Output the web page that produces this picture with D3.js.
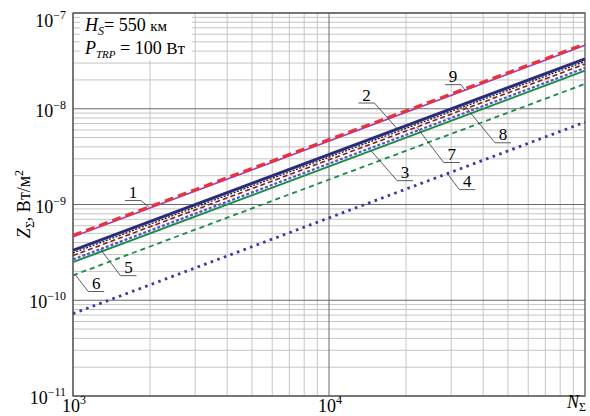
<!DOCTYPE html>
<html>
<head>
<meta charset="utf-8">
<script src="https://cdn.jsdelivr.net/npm/d3@7"></script>
<style>
	body { margin: 0; background: #fff; }
</style>
</head>
<body>
<div id="chart"></div>
<script>
'use strict'

// Data: each curve is Z = k * N, k read at N = 1e3
const seriesIds   = ['1', '9', '2', '8', '7', '5', '3', '6', '4'];
const valuesAt1e3 = [4.75e-10, 4.6e-10, 3.32e-10, 3.12e-10, 2.93e-10, 2.67e-10, 2.5e-10, 1.82e-10, 7.25e-11];
const nRange      = [1e3, 1e5];
const xTicks      = [1e3, 1e4];
const yTicks      = [1e-11, 1e-10, 1e-9, 1e-8, 1e-7];

// line styles, by series id
const styles = {
	'1': { color: '#e8323c', width: 3.2, dash: '9,5' },
	'9': { color: '#a43ab8', width: 1.6, dash: null },
	'2': { color: '#2b2b7d', width: 3, dash: null },
	'8': { color: '#1a1a1a', width: 1.3, dash: '2,1.5' },
	'7': { color: '#8c1c1c', width: 1.6, dash: '5,3' },
	'5': { color: '#5353c8', width: 2.2, dash: '3,2' },
	'3': { color: '#1b8a48', width: 2, dash: null },
	'6': { color: '#1b8a48', width: 1.8, dash: '5,4' },
	'4': { color: '#3838a8', width: 2.8, dash: '2.6,4.4' }
};

// callouts: N where the leader touches the curve, text offset in px
const callouts = [
	{ id: '1', n: 1980, dx: -16, dy: -9 },
	{ id: '9', n: 34000, dx: -12, dy: -8 },
	{ id: '2', n: 18500, dx: -31, dy: -28.5 },
	{ id: '8', n: 34000, dx: 38, dy: 34 },
	{ id: '7', n: 22000, dx: 35, dy: 33 },
	{ id: '3', n: 14600, dx: 34, dy: 27.5 },
	{ id: '4', n: 29000, dx: 20, dy: 13.5 },
	{ id: '5', n: 1280, dx: 28, dy: 24 },
	{ id: '6', n: 1020, dx: 21, dy: 14.5 }
];

const width = 590;
const height = 416;
const margin = { left: 73, right: 5, top: 13, bottom: 20 };
const serif = '"Liberation Serif", "Times New Roman", "DejaVu Serif", serif';

const svg = d3.select('#chart')
	.append('svg')
	.attr('width', width)
	.attr('height', height)
	.attr('font-family', serif)
	.style('font-family', serif);

const x = d3.scaleLog()
	.domain(nRange)
	.range([margin.left, width - margin.right]);

const y = d3.scaleLog()
	.domain([yTicks[0], yTicks[yTicks.length - 1]])
	.range([height - margin.bottom, margin.top]);

// minor values for grid
function minorValues(lo, hi) {
	let out = [];
	for (let e = Math.round(Math.log10(lo)); e < Math.round(Math.log10(hi)); e++) {
		for (let m = 2; m <= 9; m++) out.push(m * Math.pow(10, e));
	}
	return out;
}

const grid = svg.append('g');

grid.selectAll('line.vminor')
	.data(minorValues(nRange[0], nRange[1]))
	.enter()
	.append('line')
		.attr('x1', d => x(d)).attr('x2', d => x(d))
		.attr('y1', y.range()[1]).attr('y2', y.range()[0])
		.style('stroke', '#c4c4c4')
		.style('stroke-width', '1px');

grid.selectAll('line.hminor')
	.data(minorValues(yTicks[0], yTicks[yTicks.length - 1]))
	.enter()
	.append('line')
		.attr('y1', d => y(d)).attr('y2', d => y(d))
		.attr('x1', x.range()[0]).attr('x2', x.range()[1])
		.style('stroke', '#c4c4c4')
		.style('stroke-width', '1px');

grid.selectAll('line.vmajor')
	.data(xTicks)
	.enter()
	.append('line')
		.attr('x1', d => x(d)).attr('x2', d => x(d))
		.attr('y1', y.range()[1]).attr('y2', y.range()[0])
		.style('stroke', '#6a6a6a')
		.style('stroke-width', '1px');

grid.selectAll('line.hmajor')
	.data(yTicks)
	.enter()
	.append('line')
		.attr('y1', d => y(d)).attr('y2', d => y(d))
		.attr('x1', x.range()[0]).attr('x2', x.range()[1])
		.style('stroke', '#6a6a6a')
		.style('stroke-width', '1px');

// frame
svg.append('rect')
	.attr('x', x.range()[0])
	.attr('y', y.range()[1])
	.attr('width', x.range()[1] - x.range()[0])
	.attr('height', y.range()[0] - y.range()[1])
	.style('fill', 'none')
	.style('stroke', '#555')
	.style('stroke-width', '1.3px');

// white box behind the parameters
svg.append('rect')
	.attr('x', 80).attr('y', 15)
	.attr('width', 112).attr('height', 45)
	.style('fill', '#fff');

const params = svg.append('g').style('font-size', '18px');
let l1 = params.append('text').attr('x', 85).attr('y', 31);
l1.append('tspan').style('font-style', 'italic').text('H');
l1.append('tspan').style('font-style', 'italic').style('font-size', '12px').attr('dy', 4).text('S');
l1.append('tspan').attr('dy', -4).text('= 550 ');
l1.append('tspan').style('font-size', '15px').text('км');

let l2 = params.append('text').attr('x', 85).attr('y', 54);
l2.append('tspan').style('font-style', 'italic').text('P');
l2.append('tspan').style('font-style', 'italic').style('font-size', '11px').attr('dy', 4).text('TRP');
l2.append('tspan').attr('dy', -4).text(' = 100 ');
l2.append('tspan').style('font-size', '17px').text('Вт');

// curves
const line = d3.line()
	.x(d => x(d[0]))
	.y(d => y(d[1]));

const curves = seriesIds.map((id, i) => ({
	id: id,
	k: valuesAt1e3[i] / 1e3,
	points: nRange.map(n => [n, valuesAt1e3[i] * n / 1e3])
}));

svg.append('g')
	.selectAll('path')
	.data(curves.slice().reverse())
	.enter()
	.append('path')
		.attr('d', d => line(d.points))
		.style('fill', 'none')
		.style('stroke', d => styles[d.id].color)
		.style('stroke-width', d => styles[d.id].width + 'px')
		.style('stroke-dasharray', d => styles[d.id].dash);

// callouts
const cg = svg.append('g');
for (let c of callouts) {
	let cur = curves.find(s => s.id === c.id);
	let px = x(c.n);
	let py = y(cur.k * c.n);
	let tx = px + c.dx;
	let ty = py + c.dy;
	let uy = ty + 2.5;
	let ux = (c.dx < 0) ? tx + 8 : tx - 8;
	cg.append('line')
		.attr('x1', tx - 8).attr('x2', tx + 8)
		.attr('y1', uy).attr('y2', uy)
		.style('stroke', '#333').style('stroke-width', '0.8px');
	cg.append('line')
		.attr('x1', ux).attr('y1', uy)
		.attr('x2', px).attr('y2', py)
		.style('stroke', '#333').style('stroke-width', '0.8px');
	cg.append('text')
		.attr('x', tx).attr('y', ty)
		.attr('text-anchor', 'middle')
		.style('font-size', '17px')
		.text(c.id);
}

// tick labels
const yLab = svg.append('g').style('font-size', '18px');
yTicks.forEach(t => {
	let e = Math.round(Math.log10(t));
	let txt = yLab.append('text')
		.attr('x', 66)
		.attr('y', Math.max(y(t) + 8, 27))
		.attr('text-anchor', 'end');
	txt.append('tspan').text('10');
	txt.append('tspan').attr('dy', -8).style('font-size', '12px').text('\u2212' + Math.abs(e));
});

const xLab = svg.append('g').style('font-size', '18px');
xTicks.forEach(t => {
	let e = Math.round(Math.log10(t));
	let txt = xLab.append('text')
		.attr('x', x(t) + 1)
		.attr('y', 412)
		.attr('text-anchor', 'middle');
	txt.append('tspan').text('10');
	txt.append('tspan').attr('dy', -8).style('font-size', '12px').text(e);
});

// axis titles
let nt = svg.append('text').attr('x', 567).attr('y', 408).style('font-size', '18px');
nt.append('tspan').style('font-style', 'italic').text('N');
nt.append('tspan').attr('dy', 3).style('font-size', '12px').text('Σ');

let zt = svg.append('text')
	.attr('transform', 'translate(30,204) rotate(-90)')
	.attr('text-anchor', 'middle')
	.style('font-size', '18px');
zt.append('tspan').style('font-style', 'italic').text('Z');
zt.append('tspan').attr('dy', 4).style('font-size', '12px').text('Σ');
zt.append('tspan').attr('dy', -4).text(', Вт/м');
zt.append('tspan').attr('dy', -7).style('font-size', '12px').text('2');
</script>
</body>
</html>
